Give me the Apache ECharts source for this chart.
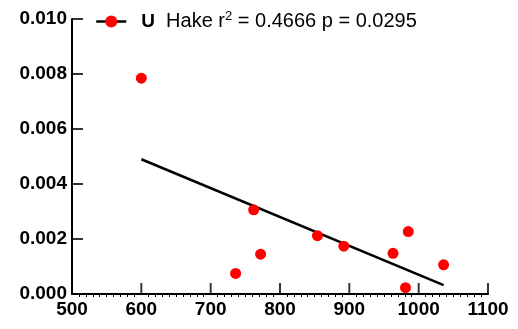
<!DOCTYPE html>
<html>
<head>
<meta charset="utf-8">
<script src="https://cdn.jsdelivr.net/npm/echarts@6/dist/echarts.min.js"></script>
<style>
  html, body { margin: 0; padding: 0; background: #fff; }
  #chart { width: 518px; height: 329px; }
</style>
</head>
<body>
<div id="chart"></div>
<script>
// Observed points: x and U concentration
const xValues = [600, 736, 762, 772, 854, 892, 963, 981, 985, 1036];
const uValues = [0.00785, 0.00075, 0.00306, 0.00145, 0.00212, 0.00174, 0.00148, 0.00023, 0.00227, 0.00106];

// Fitted regression line end points
const fitX = [600, 1036];
const fitU = [0.0049, 0.00032];

// Major tick positions
const xTicks = [500, 600, 700, 800, 900, 1000, 1100];
const yTicks = [0, 0.002, 0.004, 0.006, 0.008, 0.010];

const seriesName = 'U';
const statsText = 'Hake r';
const statsTail = ' = 0.4666 p = 0.0295';

const FONT = 'Liberation Sans, Arial, Helvetica, sans-serif';
const X_MIN = 500, X_MAX = 1100, Y_MIN = 0, Y_MAX = 0.01;
const TICK_LEN = 11;

const chart = echarts.init(document.getElementById('chart'));

const points = xValues.map((x, i) => [x, uValues[i]]);
const fit = fitX.map((x, i) => [x, fitU[i]]);

// Inward-pointing major ticks drawn as thin rectangles sitting on each axis
function tickSeries(values, horizontal) {
  return {
    type: 'scatter',
    silent: true,
    clip: false,
    z: 4,
    symbol: 'rect',
    symbolSize: horizontal ? [2, TICK_LEN] : [TICK_LEN, 2],
    symbolOffset: horizontal ? [0, -TICK_LEN / 2] : [TICK_LEN / 2, 0],
    itemStyle: { color: '#000' },
    data: values.map(v => horizontal ? [v, Y_MIN] : [X_MIN, v])
  };
}

chart.setOption({
  animation: false,
  backgroundColor: '#fff',
  grid: { left: 72, right: 30, top: 19, bottom: 35, containLabel: false },
  legend: {
    left: 90,
    top: 5,
    itemWidth: 30,
    itemHeight: 15,
    data: [seriesName],
    lineStyle: { color: '#000', width: 2.5, opacity: 1 },
    formatter: () => '{b|' + seriesName + '}{n|  ' + statsText + '}{s|2}{n|' + statsTail + '}',
    textStyle: {
      padding: [0, 0, 0, 10],
      rich: {
        b: { fontFamily: FONT, fontSize: 19, fontWeight: 'bold', color: '#000' },
        n: { fontFamily: FONT, fontSize: 20, color: '#000' },
        s: { fontFamily: FONT, fontSize: 13, color: '#000', padding: [0, 0, 10, 0] }
      }
    }
  },
  xAxis: {
    type: 'value',
    min: X_MIN, max: X_MAX, interval: 100,
    axisLine: { show: true, onZero: false, lineStyle: { color: '#000', width: 2 } },
    axisTick: { show: false },
    minorTick: { show: true, splitNumber: 10, length: 3, lineStyle: { color: '#000', width: 1 } },
    splitLine: { show: false },
    axisLabel: { color: '#000', fontFamily: FONT, fontSize: 19, fontWeight: 'bold', margin: 6, formatter: v => String(v) }
  },
  yAxis: {
    type: 'value',
    min: Y_MIN, max: Y_MAX, interval: 0.002,
    axisLine: { show: true, onZero: false, lineStyle: { color: '#000', width: 2 } },
    axisTick: { show: false },
    splitLine: { show: false },
    axisLabel: {
      color: '#000', fontFamily: FONT, fontSize: 19, fontWeight: 'bold', margin: 5,
      formatter: v => v.toFixed(3)
    }
  },
  series: [{
    name: seriesName,
    type: 'line',
    data: points,
    symbol: 'circle',
    symbolSize: 11,
    showSymbol: true,
    itemStyle: { color: '#ff0000' },
    lineStyle: { width: 0, opacity: 0 },
    z: 3
  }, {
    name: 'fit',
    type: 'line',
    data: fit,
    symbol: 'none',
    lineStyle: { color: '#000', width: 2.5 },
    z: 2
  },
  tickSeries(xTicks, true),
  tickSeries(yTicks, false)]
});
</script>
</body>
</html>
